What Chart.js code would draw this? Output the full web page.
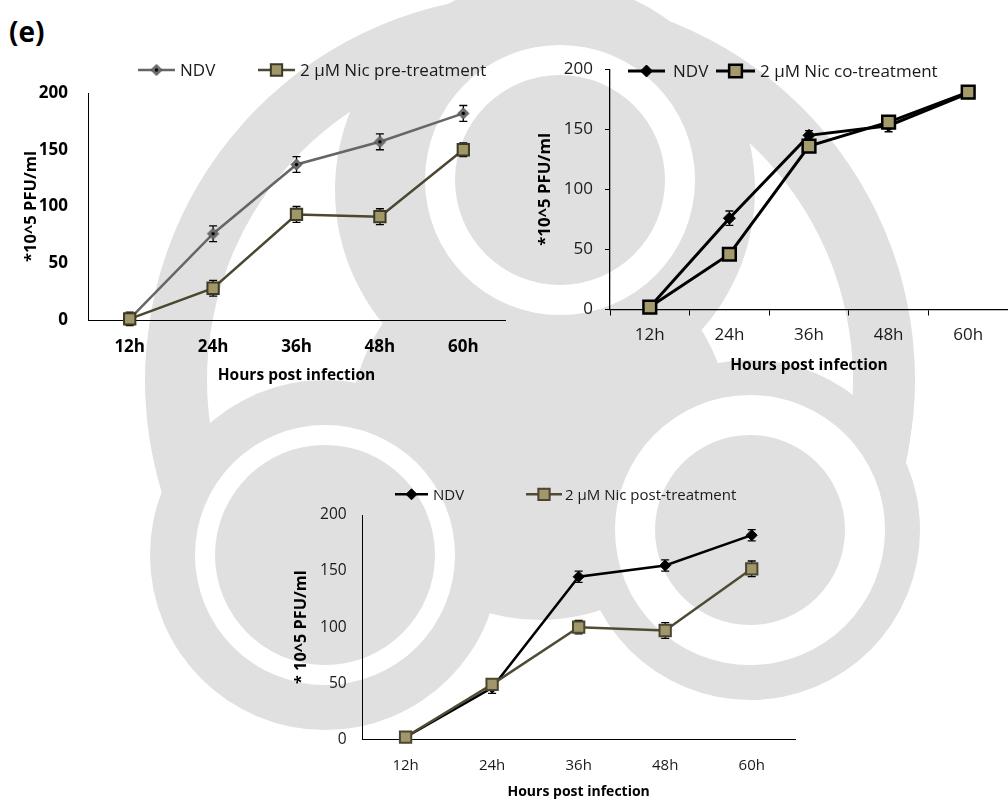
<!DOCTYPE html>
<html><head><meta charset="utf-8">
<script src="https://cdn.jsdelivr.net/npm/chart.js@4.4.1/dist/chart.umd.min.js"></script>
<style>
html,body{margin:0;padding:0;background:#fff;}
#page{position:relative;width:1008px;height:801px;overflow:hidden;background:#fff;}
.wm{position:absolute;border-radius:50%;box-sizing:border-box;}
.g{background:#e0e0e0;}
.w{background:#fff;}
canvas{position:absolute;}
#lbl{position:absolute;left:9px;top:12px;font:bold 28px "Open Sans";color:#000;line-height:38px;}
</style></head><body>
<div id="page">
  <!-- faint emblem in the background -->
  <div class="wm" style="left:145px;top:-5px;width:770px;height:770px;border:62px solid #e0e0e0;border-bottom-color:transparent;transform:rotate(8deg);"></div>
  <div class="wm g" style="left:350px;top:240px;width:380px;height:380px;"></div>
  <div class="wm g" style="left:335px;top:-20px;width:420px;height:420px;"></div>
  <div class="wm g" style="left:150px;top:380px;width:350px;height:350px;"></div>
  <div class="wm g" style="left:580px;top:360px;width:340px;height:340px;"></div>
  <div class="wm w" style="left:425px;top:45px;width:270px;height:270px;"></div>
  <div class="wm w" style="left:195px;top:425px;width:260px;height:260px;"></div>
  <div class="wm w" style="left:615px;top:395px;width:270px;height:270px;"></div>
  <div class="wm g" style="left:455px;top:75px;width:210px;height:210px;"></div>
  <div class="wm g" style="left:215px;top:445px;width:220px;height:220px;"></div>
  <div class="wm g" style="left:655px;top:435px;width:190px;height:190px;"></div>

  <div id="lbl">(e)</div>
  <canvas id="c1"></canvas>
  <canvas id="c2"></canvas>
  <canvas id="c3"></canvas>
</div>
<script>
// ---------------- data ----------------
const categories = ['12h', '24h', '36h', '48h', '60h'];
const yTickValues = [0, 50, 100, 150, 200];
const xTitle = 'Hours post infection';

// panel 1: pre-treatment
const preLabels = ['NDV', '2 µM Nic pre-treatment'];
const preNdv = [1, 76, 137, 157, 182];
const preNdvErr = [6, 7, 7, 7, 7];
const preNic = [1, 28, 93, 91, 150];
const preNicErr = [3, 7, 7, 7, 6];

// panel 2: co-treatment
const coLabels = ['NDV', '2 µM Nic co-treatment'];
const coNdv = [2, 76, 145, 153, 180];
const coNdvErr = [2, 6, 4, 5, 4];
const coNic = [2, 46, 136, 156, 181];
const coNicErr = [2, 3, 4, 4, 3];

// panel 3: post-treatment
const postLabels = ['NDV', '2 µM Nic post-treatment'];
const postNdv = [2, 46, 145, 155, 182];
const postNdvErr = [2, 5, 5, 5, 5];
const postNic = [2, 49, 100, 97, 152];
const postNicErr = [2, 4, 6, 7, 7];

// ---------------- helpers ----------------
const FONT = '"Open Sans", "DejaVu Sans", sans-serif';

function diamondWithDot(r, fill, stroke, dot) {
  const s = Math.ceil(2 * r + 4);
  const c = document.createElement('canvas');
  c.width = s; c.height = s;
  const g = c.getContext('2d');
  const m = s / 2;
  g.beginPath();
  g.moveTo(m, m - r); g.lineTo(m + r, m); g.lineTo(m, m + r); g.lineTo(m - r, m); g.closePath();
  g.fillStyle = fill; g.fill();
  g.lineWidth = 1; g.strokeStyle = stroke; g.stroke();
  g.beginPath(); g.arc(m, m, 1.7, 0, Math.PI * 2); g.fillStyle = dot; g.fill();
  return c;
}

function drawMarker(ctx, ds, x, y) {
  const st = ds.pointStyle, r = ds.pointRadius;
  if (st instanceof HTMLCanvasElement) { ctx.drawImage(st, x - st.width / 2, y - st.height / 2); return; }
  ctx.beginPath();
  if (st === 'rect') { const h = r * Math.SQRT1_2; ctx.rect(x - h, y - h, 2 * h, 2 * h); }
  else { ctx.moveTo(x, y - r); ctx.lineTo(x + r, y); ctx.lineTo(x, y + r); ctx.lineTo(x - r, y); ctx.closePath(); }
  ctx.fillStyle = ds.pointBackgroundColor; ctx.fill();
  if (ds.pointBorderWidth) { ctx.lineWidth = ds.pointBorderWidth; ctx.strokeStyle = ds.pointBorderColor; ctx.stroke(); }
}

const errorBarPlugin = {
  id: 'errorBars',
  beforeDatasetsDraw(chart, args, opts) {
    const ctx = chart.ctx, ys = chart.scales.y;
    chart.data.datasets.forEach((ds, i) => {
      if (!ds.errors) return;
      const meta = chart.getDatasetMeta(i);
      ctx.save();
      ctx.strokeStyle = opts.color; ctx.lineWidth = opts.width;
      meta.data.forEach((pt, j) => {
        const v = ds.data[j], e = ds.errors[j];
        const t = ys.getPixelForValue(v + e), b = ys.getPixelForValue(v - e), c = opts.cap;
        ctx.beginPath();
        ctx.moveTo(pt.x, t); ctx.lineTo(pt.x, b);
        ctx.moveTo(pt.x - c, t); ctx.lineTo(pt.x + c, t);
        ctx.moveTo(pt.x - c, b); ctx.lineTo(pt.x + c, b);
        ctx.stroke();
      });
      ctx.restore();
    });
  }
};

const lineLegendPlugin = {
  id: 'lineLegend',
  afterDraw(chart, args, opts) {
    const ctx = chart.ctx;
    opts.items.forEach((it, i) => {
      const ds = chart.data.datasets[i];
      ctx.save();
      ctx.strokeStyle = ds.borderColor; ctx.lineWidth = ds.borderWidth;
      ctx.beginPath(); ctx.moveTo(it.x1, opts.y); ctx.lineTo(it.x2, opts.y); ctx.stroke();
      drawMarker(ctx, ds, (it.x1 + it.x2) / 2, opts.y);
      ctx.fillStyle = opts.color; ctx.font = opts.font;
      ctx.textBaseline = 'middle'; ctx.textAlign = 'left';
      ctx.fillText(ds.label, it.textX, opts.y + 1);
      ctx.restore();
    });
  }
};

function buildChart(id, L) {
  const cv = document.getElementById(id);
  const [bl, bt, bw, bh] = L.box;
  const [al, at, ar, ab] = L.area;
  cv.width = bw; cv.height = bh;
  cv.style.left = bl + 'px'; cv.style.top = bt + 'px';
  cv.style.width = bw + 'px'; cv.style.height = bh + 'px';
  const yWidth = al - bl, xHeight = bt + bh - ab;
  return new Chart(cv, {
    type: 'line',
    data: { labels: categories, datasets: L.datasets },
    options: {
      responsive: false, animation: false, devicePixelRatio: 1,
      layout: { autoPadding: false, padding: { left: 0, top: at - bt, right: bl + bw - ar, bottom: 0 } },
      plugins: {
        legend: { display: false }, tooltip: { enabled: false },
        errorBars: { color: '#000', width: 1.3, cap: 4 },
        lineLegend: {
          y: L.legend.y - bt, font: L.legend.font, color: '#1a1a1a',
          items: L.legend.items.map(it => ({ x1: it[0] - bl, x2: it[1] - bl, textX: it[2] - bl }))
        }
      },
      scales: {
        x: {
          type: 'category', offset: true,
          grid: { display: true, offset: true, drawOnChartArea: false, drawTicks: L.xTickMarks, tickLength: 6, color: '#000', lineWidth: 1 },
          border: { display: true, color: '#000', width: L.axisWidth },
          ticks: { font: L.xTickFont, color: L.tickColor, padding: L.xTickPad, maxRotation: 0 },
          title: { display: true, text: xTitle, color: '#000', font: L.xTitleFont, padding: { top: 0, bottom: L.xTitlePad } },
          afterFit(s) { s.height = xHeight; }
        },
        y: {
          min: 0, max: 200,
          afterBuildTicks(s) { s.ticks = yTickValues.map(v => ({ value: v })); },
          grid: { display: true, drawOnChartArea: false, drawTicks: L.yTickMarks, tickLength: 5, color: '#000', lineWidth: 1 },
          border: { display: true, color: '#000', width: L.axisWidth },
          ticks: { font: L.yTickFont, color: L.tickColor, padding: L.yTickPad },
          title: { display: true, text: L.yTitle, color: '#000', font: L.yTitleFont, padding: { top: L.yTitlePad, bottom: 0 } },
          afterFit(s) { s.width = yWidth; }
        }
      }
    },
    plugins: [errorBarPlugin, lineLegendPlugin]
  });
}

function series(label, data, errors, o) {
  return Object.assign({
    label, data, errors, tension: 0, clip: false, fill: false,
    pointHoverRadius: o.pointRadius
  }, o);
}

// ---------------- panel 1 ----------------
const ndvDiamond = diamondWithDot(5.5, '#6f6f6f', '#4a4a4a', '#000');
buildChart('c1', {
  box: [0, 40, 520, 360], area: [88, 93, 505, 320],
  datasets: [
    series(preLabels[0], preNdv, preNdvErr, { borderColor: '#666666', borderWidth: 2.5, pointStyle: ndvDiamond, pointRadius: 6, order: 1 }),
    series(preLabels[1], preNic, preNicErr, { borderColor: '#4b4731', borderWidth: 2.5, pointStyle: 'rect', pointRadius: 8, pointBackgroundColor: '#a09868', pointBorderColor: '#3c3924', pointBorderWidth: 2, order: 0 })
  ],
  legend: { y: 70, font: '17px ' + FONT, items: [[138, 175, 180], [258, 295, 300]] },
  xTickMarks: false, yTickMarks: false, axisWidth: 1, tickColor: '#000',
  xTickFont: { family: FONT, size: 17, weight: 'bold' }, xTickPad: 17,
  yTickFont: { family: FONT, size: 17, weight: 'bold' }, yTickPad: 20,
  xTitleFont: { family: FONT, size: 15.5, weight: 'bold' }, xTitlePad: 15,
  yTitle: '*10^5 PFU/ml', yTitleFont: { family: FONT, size: 16.5, weight: 'bold' }, yTitlePad: 21
});

// ---------------- panel 2 ----------------
buildChart('c2', {
  box: [500, 40, 508, 360], area: [610, 69.3, 1010, 309.5],
  datasets: [
    series(coLabels[0], coNdv, coNdvErr, { borderColor: '#000', borderWidth: 3, pointStyle: 'rectRot', pointRadius: 6, pointBackgroundColor: '#000', pointBorderColor: '#000', pointBorderWidth: 1, order: 1 }),
    series(coLabels[1], coNic, coNicErr, { borderColor: '#000', borderWidth: 3, pointStyle: 'rect', pointRadius: 9, pointBackgroundColor: '#a39b6b', pointBorderColor: '#000', pointBorderWidth: 2.5, order: 0 })
  ],
  legend: { y: 71, font: '17px ' + FONT, items: [[628, 665, 673], [716, 755, 760]] },
  xTickMarks: true, yTickMarks: true, axisWidth: 1.3, tickColor: '#1a1a1a',
  xTickFont: { family: FONT, size: 17 }, xTickPad: 9,
  yTickFont: { family: FONT, size: 17 }, yTickPad: 12,
  xTitleFont: { family: FONT, size: 15.5, weight: 'bold' }, xTitlePad: 25.5,
  yTitle: '*10^5 PFU/ml', yTitleFont: { family: FONT, size: 16.8, weight: 'bold' }, yTitlePad: 35
});

// ---------------- panel 3 ----------------
buildChart('c3', {
  box: [280, 470, 540, 331], area: [362.3, 515, 795, 739.3],
  datasets: [
    series(postLabels[0], postNdv, postNdvErr, { borderColor: '#000', borderWidth: 2.5, pointStyle: 'rectRot', pointRadius: 5.5, pointBackgroundColor: '#000', pointBorderColor: '#000', pointBorderWidth: 1, order: 1 }),
    series(postLabels[1], postNic, postNicErr, { borderColor: '#4f4b34', borderWidth: 2.5, pointStyle: 'rect', pointRadius: 8, pointBackgroundColor: '#a0976a', pointBorderColor: '#4b4630', pointBorderWidth: 2, order: 0 })
  ],
  legend: { y: 494.3, font: '15px ' + FONT, items: [[395, 428, 433], [526, 562, 565]] },
  xTickMarks: false, yTickMarks: false, axisWidth: 1, tickColor: '#1a1a1a',
  xTickFont: { family: FONT, size: 15 }, xTickPad: 17.4,
  yTickFont: { family: FONT, size: 15.5 }, yTickPad: 15.6,
  xTitleFont: { family: FONT, size: 14, weight: 'bold' }, xTitlePad: 0.9,
  yTitle: '* 10^5 PFU/ml', yTitleFont: { family: FONT, size: 16.3, weight: 'bold' }, yTitlePad: 12
});
</script>
</body></html>
